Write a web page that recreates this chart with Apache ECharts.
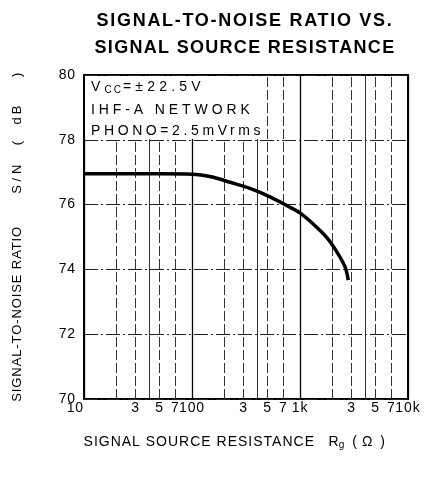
<!DOCTYPE html>
<html>
<head>
<meta charset="utf-8">
<script src="https://cdn.jsdelivr.net/npm/echarts@6/dist/echarts.min.js"></script>
<style>html,body{margin:0;padding:0;background:#fff;}#c{width:428px;height:478px;}</style>
</head>
<body>
<div id="c"></div>
<script>
// Data
const resistance = [10, 20, 50, 100, 150, 225, 344, 527, 808, 1015, 1327, 1766, 2186, 2612, 2800];
const snRatio   = [76.95, 76.95, 76.95, 76.94, 76.86, 76.69, 76.5, 76.24, 75.92, 75.73, 75.4, 74.99, 74.55, 74.08, 73.67];
const minorGridValues = [20, 30, 40, 50, 70, 200, 300, 400, 500, 700, 2000, 3000, 4000, 5000, 7000];
const minorTickLabels = ['3', '5', '7'];
const decadeLabels = {10: '10', 100: '100', 1000: '1k', 10000: '10k'};
const yTicks = [70, 72, 74, 76, 78, 80];

const FONT = 'Liberation Sans, Arial, sans-serif';

// Letter spacing (styling only): the reference uses a widely tracked typeface.
(function () {
  const P = CanvasRenderingContext2D.prototype;
  const origFill = P.fillText, origMeasure = P.measureText;
  const plain = {
    'IHF-A NETWORK': 3.9, 'PHONO=2.5mVrms': 3.6, 'V': 4.2, 'CC': 2.0, '=±22.5V': 4.2,
    'SIGNAL SOURCE RESISTANCE': 1.0, 'SIGNAL-TO-NOISE RATIO': 0.9, 'S/N': 3.8, 'dB': 3.0
  };
  function spacing(ctx, t) {
    const bold = /bold|[6-9]00/.test(ctx.font || '');
    if (bold) {
      if (t === 'SIGNAL-TO-NOISE RATIO VS.') return 1.7;
      if (t === 'SIGNAL SOURCE RESISTANCE') return 1.3;
      return 0;
    }
    return plain[t] || 0;
  }
  function wrap(orig) {
    return function (t) {
      const s = spacing(this, t);
      if (!s || !('letterSpacing' in this)) return orig.apply(this, arguments);
      const prev = this.letterSpacing;
      this.letterSpacing = s + 'px';
      const r = orig.apply(this, arguments);
      this.letterSpacing = prev;
      return r;
    };
  }
  P.fillText = wrap(origFill);
  P.measureText = wrap(origMeasure);
})();

const chart = echarts.init(document.getElementById('c'), null, {renderer: 'canvas'});

const markData = minorGridValues.map(v => {
  const lead = String(v)[0];
  const lbl = minorTickLabels.indexOf(lead) >= 0 ? lead : '';
  return {
    xAxis: v,
    lineStyle: {type: lead === '4' ? 'solid' : [10, 3], color: '#333', width: 1},
    label: {show: lbl !== '', formatter: lbl}
  };
});

chart.setOption({
  animation: false,
  backgroundColor: '#fff',
  title: {
    text: 'SIGNAL-TO-NOISE RATIO VS.\nSIGNAL SOURCE RESISTANCE',
    left: 240, top: 3, textAlign: 'center',
    textStyle: {fontFamily: FONT, fontWeight: 'bold', fontSize: 18, lineHeight: 27, color: '#000'}
  },
  grid: {left: 84, right: 20, top: 75, bottom: 79, show: true, borderColor: '#000', borderWidth: 2, backgroundColor: 'transparent'},
  xAxis: {
    type: 'log', logBase: 10, min: 10, max: 10000,
    name: '{a|SIGNAL SOURCE RESISTANCE}{s|}{a|R}{sub|g}{p|(}{a|Ω}{p|)}',
    nameLocation: 'middle', nameGap: 36,
    nameTextStyle: {
      padding: [0, 18, 0, 0],
      rich: {
        a: {fontFamily: FONT, fontSize: 14, color: '#000'},
        s: {fontFamily: FONT, fontSize: 14, width: 14},
        p: {fontFamily: FONT, fontSize: 14, color: '#000', padding: [0, 5, 0, 8]},
        sub: {fontFamily: FONT, fontSize: 10, color: '#000', verticalAlign: 'bottom', padding: [5, 0, 0, 0]}
      }
    },
    axisLine: {show: false},
    axisTick: {show: false},
    axisLabel: {
      fontFamily: FONT, fontSize: 14, color: '#000', margin: 2,
      alignMinLabel: 'right',
      formatter: v => decadeLabels[Math.round(v)] || ''
    },
    splitLine: {show: true, lineStyle: {color: '#000', width: 1.3, type: 'solid'}}
  },
  yAxis: {
    type: 'value', min: 70, max: 80, interval: 2,
    name: '{a|SIGNAL-TO-NOISE RATIO}{g|}{a|S/N}{p1|(}{a|dB}{p2|)}',
    nameLocation: 'middle', nameGap: 60, nameRotate: 90,
    nameTextStyle: {
      rich: {
        a: {fontFamily: FONT, fontSize: 13, color: '#000'},
        g: {width: 32},
        p1: {fontFamily: FONT, fontSize: 13, color: '#000', padding: [0, 16, 0, 16]},
        p2: {fontFamily: FONT, fontSize: 13, color: '#000', padding: [0, 0, 0, 26]}
      }
    },
    axisLine: {show: false},
    axisTick: {show: false},
    axisLabel: {fontFamily: FONT, fontSize: 14, color: '#000', margin: 8,
      formatter: v => yTicks.indexOf(v) >= 0 ? String(v) : ''},
    splitLine: {show: true, lineStyle: {color: '#222', width: 1, type: [14, 3, 2, 3]}}
  },
  graphic: [
    {type: 'rect', z: 100, shape: {x: 85, y: 76, width: 181, height: 63}, style: {fill: '#fff'}},
    {type: 'text', z: 101, left: 91, top: 80, style: {
      text: '{a|V}{sub|CC}{a|=±22.5V}',
      rich: {
        a: {fontFamily: FONT, fontSize: 14, fill: '#000'},
        sub: {fontFamily: FONT, fontSize: 10, fill: '#000', padding: [6, 0, 0, 0]}
      }
    }},
    {type: 'text', z: 101, left: 91, top: 103, style: {text: 'IHF-A NETWORK', font: '14px ' + FONT, fill: '#000'}},
    {type: 'text', z: 101, left: 91, top: 124, style: {text: 'PHONO=2.5mVrms', font: '14px ' + FONT, fill: '#000'}}
  ],
  series: [{
    type: 'line',
    data: resistance.map((r, i) => [r, snRatio[i]]),
    smooth: 0.3,
    symbol: 'none',
    lineStyle: {color: '#000', width: 3.5},
    z: 10,
    markLine: {
      silent: true, symbol: 'none', animation: false,
      label: {position: 'start', distance: 2, fontFamily: FONT, fontSize: 14, color: '#000'},
      data: markData
    }
  }]
});
</script>
</body>
</html>
